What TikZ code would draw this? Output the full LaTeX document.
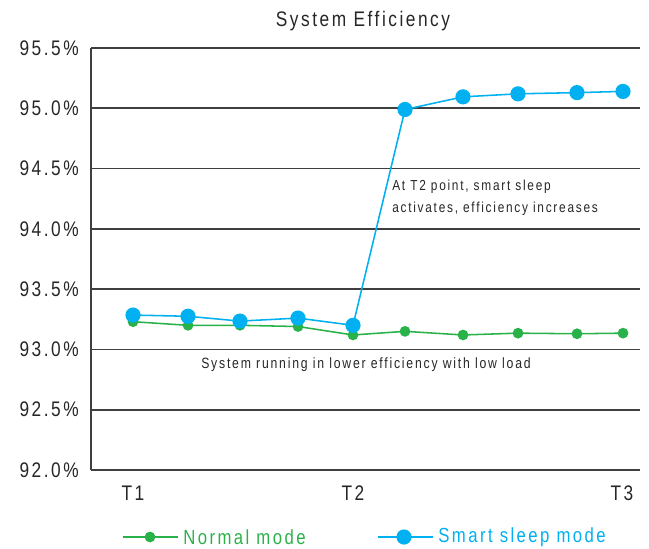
\documentclass[tikz,border=0pt]{standalone}
\usepackage{fontspec}
\setmainfont{Liberation Sans}[FakeStretch=0.82, LetterSpace=12]
\definecolor{normalgreen}{HTML}{2AB24A}
\definecolor{sleepblue}{HTML}{00B0F0}
\definecolor{gridgray}{HTML}{3F3F3F}
\definecolor{textgray}{HTML}{262626}
\newcommand{\effy}[1]{78+(#1-92)*120.57}
\tikzset{
gridline/.style={gridgray, line width=1.3pt},
ylab/.style={anchor=east, inner sep=0pt, text=textgray, font=\fontsize{15}{18}\selectfont},
tlab/.style={inner sep=0pt, text=textgray, font=\fontsize{15}{18}\selectfont},
note/.style={inner sep=0pt, text=textgray, font=\fontsize{10.3}{15.5}\selectfont},
normalline/.style={normalgreen, line width=1.1pt},
sleepline/.style={sleepblue, line width=1.1pt},
normaldot/.style={fill=normalgreen},
sleepdot/.style={fill=sleepblue},
legtext/.style={anchor=west, inner sep=0pt, font=\fontsize{14.5}{17}\selectfont}
}
\begin{document}
\begin{tikzpicture}[x=0.025cm, y=0.025cm]
\useasboundingbox (0,0) rectangle (649,548);

\node[inner sep=0pt, text=textgray, font=\fontsize{15}{18}\selectfont] (title) at (363,527) {System Efficiency};

% grid and axis
\draw[gridline] (91,78) -- (640,78);
\draw[gridline] (91,138.29) -- (640,138.29);
\draw[gridline] (91,198.57) -- (640,198.57);
\draw[gridline] (91,258.86) -- (640,258.86);
\draw[gridline] (91,319.14) -- (640,319.14);
\draw[gridline] (91,379.43) -- (640,379.43);
\draw[gridline] (91,439.71) -- (640,439.71);
\draw[gridline] (91,500) -- (640,500);
\draw[gridline] (91,500) -- (91,78);

\node[ylab] (y920) at (79,78) {92.0\%};
\node[ylab] (y925) at (79,138.29) {92.5\%};
\node[ylab] (y930) at (79,198.57) {93.0\%};
\node[ylab] (y935) at (79,258.86) {93.5\%};
\node[ylab] (y940) at (79,319.14) {94.0\%};
\node[ylab] (y945) at (79,379.43) {94.5\%};
\node[ylab] (y950) at (79,439.71) {95.0\%};
\node[ylab] (y955) at (79,500) {95.5\%};

\node[tlab] (t1) at (133,55) {T1};
\node[tlab] (t2) at (353,55) {T2};
\node[tlab] (t3) at (622,55) {T3};

% normal mode
\draw[normalline] (133,{\effy{93.23}}) -- (188,{\effy{93.20}}) -- (240,{\effy{93.20}})
  -- (298,{\effy{93.19}}) -- (353,{\effy{93.12}}) -- (405,{\effy{93.15}})
  -- (463,{\effy{93.12}}) -- (518,{\effy{93.135}}) -- (577,{\effy{93.13}}) -- (623,{\effy{93.135}});
\fill[normaldot] (133,{\effy{93.23}}) circle [radius=0.135cm];
\fill[normaldot] (188,{\effy{93.20}}) circle [radius=0.135cm];
\fill[normaldot] (240,{\effy{93.20}}) circle [radius=0.135cm];
\fill[normaldot] (298,{\effy{93.19}}) circle [radius=0.135cm];
\fill[normaldot] (353,{\effy{93.12}}) circle [radius=0.135cm];
\fill[normaldot] (405,{\effy{93.15}}) circle [radius=0.135cm];
\fill[normaldot] (463,{\effy{93.12}}) circle [radius=0.135cm];
\fill[normaldot] (518,{\effy{93.135}}) circle [radius=0.135cm];
\fill[normaldot] (577,{\effy{93.13}}) circle [radius=0.135cm];
\fill[normaldot] (623,{\effy{93.135}}) circle [radius=0.135cm];

% smart sleep mode
\draw[sleepline] (133,{\effy{93.285}}) -- (188,{\effy{93.275}}) -- (240,{\effy{93.235}})
  -- (298,{\effy{93.26}}) -- (353,{\effy{93.20}}) -- (405,{\effy{94.99}})
  -- (463,{\effy{95.095}}) -- (518,{\effy{95.12}}) -- (577,{\effy{95.13}}) -- (623,{\effy{95.14}});
\fill[sleepdot] (133,{\effy{93.285}}) circle [radius=0.19cm];
\fill[sleepdot] (188,{\effy{93.275}}) circle [radius=0.19cm];
\fill[sleepdot] (240,{\effy{93.235}}) circle [radius=0.19cm];
\fill[sleepdot] (298,{\effy{93.26}}) circle [radius=0.19cm];
\fill[sleepdot] (353,{\effy{93.20}}) circle [radius=0.19cm];
\fill[sleepdot] (405,{\effy{94.99}}) circle [radius=0.19cm];
\fill[sleepdot] (463,{\effy{95.095}}) circle [radius=0.19cm];
\fill[sleepdot] (518,{\effy{95.12}}) circle [radius=0.19cm];
\fill[sleepdot] (577,{\effy{95.13}}) circle [radius=0.19cm];
\fill[sleepdot] (623,{\effy{95.14}}) circle [radius=0.19cm];

% notes
\node[note, anchor=west, align=left] (rise) at (392,350) {At T2 point, smart sleep\\activates, efficiency increases};
\node[note, font=\fontsize{10.6}{15.5}\selectfont] (low) at (366,183) {System running in lower efficiency with low load};

% legend
\coordinate (ga) at (123,11);
\coordinate (gb) at (178,11);
\draw[normalline] (ga) -- (gb);
\fill[normaldot] (150,11) circle [radius=0.135cm];
\node[legtext, text=normalgreen] (normal) at (183,11) {Normal mode};
\coordinate (ba) at (378,11);
\coordinate (bb) at (433,11);
\draw[sleepline] (ba) -- (bb);
\fill[sleepdot] (404,11) circle [radius=0.19cm];
\node[legtext, text=sleepblue] (sleep) at (438,11) {Smart sleep mode};
\end{tikzpicture}
\end{document}
